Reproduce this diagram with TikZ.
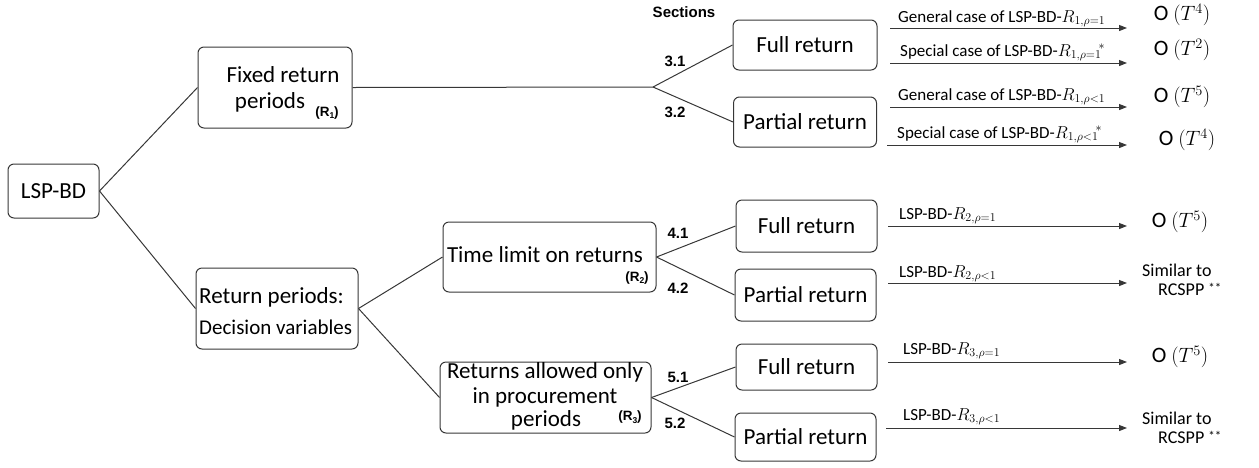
\documentclass[tikz,border=0pt]{standalone}
\usepackage{fontspec}
\setmainfont{Carlito}
\newfontfamily\secfont{Liberation Sans}
\usetikzlibrary{arrows.meta}
\definecolor{ln}{RGB}{55,55,55}
\newcommand{\fsz}[2]{\fontsize{#1}{#2}\selectfont}
\newcommand{\rsub}[1]{{\secfont\bfseries\fsz{13.5}{15}(R\raisebox{-2.5pt}{\fsz{8.5}{9}#1})}}
\newcommand{\stars}{\raisebox{3.5pt}{\fsz{13}{13}**}}
\begin{document}
\begin{tikzpicture}[x=1pt,y=-1pt,
  box/.style={draw=ln, line width=1pt, rounded corners=6pt, inner sep=0pt},
  conn/.style={draw=ln, line width=1pt},
  arr/.style={draw=ln, line width=1pt, -{Triangle[length=8pt,width=6pt]}},
  main/.style={inner sep=0pt, font={\fsz{23}{27}}},
  lab/.style={inner sep=0pt, anchor=base west, font={\fsz{17}{20}}},
  sec/.style={inner sep=0pt, font={\secfont\bfseries\fsz{15}{18}}},
  cx/.style={inner sep=0pt, font={\fsz{22}{26}}},
  sim/.style={inner sep=0pt, anchor=west, align=left, font={\fsz{18}{19}}},
]
\useasboundingbox (0,0) rectangle (1259,467);

% boxes
\node[box, minimum width=91pt, minimum height=54pt] (lsp) at (53.5,191) {};
\node[box, minimum width=154pt, minimum height=81pt] (fixed) at (275,87.5) {};
\node[box, minimum width=162pt, minimum height=81pt] (ret) at (277,308.5) {};
\node[box, minimum width=213pt, minimum height=70pt] (time) at (549.5,257) {};
\node[box, minimum width=211pt, minimum height=71pt] (allow) at (545.5,397.5) {};
\node[box, minimum width=144pt, minimum height=50pt] (full1) at (805,45) {};
\node[box, minimum width=143pt, minimum height=50pt] (part1) at (805,122) {};
\node[box, minimum width=141pt, minimum height=52pt] (full2) at (806.5,226) {};
\node[box, minimum width=141pt, minimum height=52pt] (part2) at (805.5,295) {};
\node[box, minimum width=141pt, minimum height=46pt] (full3) at (806.5,367) {};
\node[box, minimum width=141pt, minimum height=48pt] (part3) at (805.5,437) {};

% box texts
\node[main] (lsptxt) at (lsp) {LSP-BD};
\node[main] (fixedt1) at (283,75) {Fixed return};
\node[main] (fixedt2) at (270,102) {periods};
\node[inner sep=0pt] (fixedr) at (327,113) {\rsub{1}};
\node[main, anchor=west] (rett1) at (199,297) {Return periods:};
\node[inner sep=0pt, anchor=west, font={\fsz{21}{25}}] (rett2) at (199,327) {Decision variables};
\node[main] (timet) at (545,255) {Time limit on returns};
\node[inner sep=0pt] (timer) at (637,278) {\rsub{2}};
\node[main] (allowt1) at (545,372) {Returns allowed only};
\node[main] (allowt2) at (545,397) {in procurement};
\node[main] (allowt3) at (546,420) {periods};
\node[inner sep=0pt] (allowr) at (630,417) {\rsub{3}};
\node[main] (full1t) at (full1) {Full return};
\node[main] (part1t) at (part1) {Partial return};
\node[main] (full2t) at (full2) {Full return};
\node[main] (part2t) at (part2) {Partial return};
\node[main] (full3t) at (full3) {Full return};
\node[main] (part3t) at (part3) {Partial return};

% tree connectors
\coordinate (j1) at (653,87);
\draw[conn] (lsp.east) -- (fixed.west);
\draw[conn] (lsp.east) -- (ret.west);
\draw[conn] (fixed.east) -- (j1);
\draw[conn] (j1) -- (full1.west);
\draw[conn] (j1) -- (part1.west);
\draw[conn] (ret.east) -- (time.west);
\draw[conn] (ret.east) -- (allow.west);
\draw[conn] (time.east) -- (full2.west);
\draw[conn] (time.east) -- (part2.west);
\draw[conn] (allow.east) -- (full3.west);
\draw[conn] (allow.east) -- (part3.west);

% section labels
\node[sec] (sections) at (684,12) {Sections};
\node[sec] (s31) at (675,61) {3.1};
\node[sec] (s32) at (675,112) {3.2};
\node[sec] (s41) at (678,233) {4.1};
\node[sec] (s42) at (678,288) {4.2};
\node[sec] (s51) at (678,377) {5.1};
\node[sec] (s52) at (675,423) {5.2};

% arrows
\coordinate (a1s) at (890,28);  \coordinate (a1e) at (1127,28);
\coordinate (a2s) at (890,63);  \coordinate (a2e) at (1127,63);
\coordinate (a3s) at (890,107); \coordinate (a3e) at (1127,107);
\coordinate (a4s) at (887,145); \coordinate (a4e) at (1127,145);
\coordinate (b1s) at (888,226); \coordinate (b1e) at (1127,226);
\coordinate (b2s) at (888,283); \coordinate (b2e) at (1127,283);
\coordinate (b3s) at (888,362); \coordinate (b3e) at (1127,362);
\coordinate (b4s) at (886,428); \coordinate (b4e) at (1127,428);
\foreach \n in {a1,a2,a3,a4,b1,b2,b3,b4} {\draw[arr] (\n s) -- (\n e);}

% arrow labels
\node[lab] (l1) at (898,22) {General case of LSP-BD-$R_{1,\rho=1}$};
\node[lab] (l2) at (900,56) {Special case of LSP-BD-$R_{1,\rho=1}\mkern-3mu{}^{*}$};
\node[lab] (l3) at (898,100) {General case of LSP-BD-$R_{1,\rho<1}$};
\node[lab] (l4) at (897,138) {Special case of LSP-BD-$R_{1,\rho<1}\mkern-3mu{}^{*}$};
\node[lab] (m1) at (899,219) {LSP-BD-$R_{2,\rho=1}$};
\node[lab] (m2) at (899,277) {LSP-BD-$R_{2,\rho<1}$};
\node[lab] (m3) at (903,354) {LSP-BD-$R_{3,\rho=1}$};
\node[lab] (m4) at (903,420) {LSP-BD-$R_{3,\rho<1}$};

% complexities
\node[cx] (c1) at (1182,15) {O\ $(T^{4})$};
\node[cx] (c2) at (1182,50) {O\ $(T^{2})$};
\node[cx] (c3) at (1182,97) {O\ $(T^{5})$};
\node[cx] (c4) at (1187,140) {O\ $(T^{4})$};
\node[cx] (c5) at (1180,222) {O\ $(T^{5})$};
\node[sim] (c6) at (1142,280) {Similar to\\\hspace*{16pt}RCSPP \stars};
\node[cx] (c7) at (1180,357) {O\ $(T^{5})$};
\node[sim] (c8) at (1142,428) {Similar to\\\hspace*{16pt}RCSPP \stars};
\end{tikzpicture}
\end{document}
